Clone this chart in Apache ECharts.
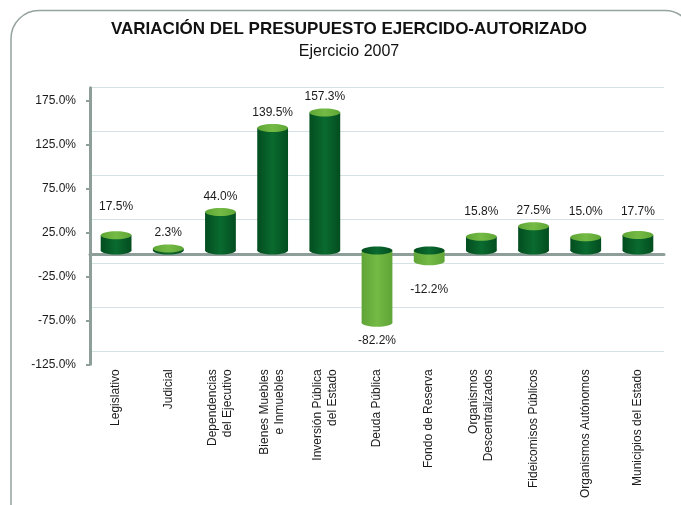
<!DOCTYPE html>
<html>
<head>
<meta charset="utf-8">
<script src="https://cdn.jsdelivr.net/npm/echarts@6/dist/echarts.min.js"></script>
<style>
    html, body { margin: 0; padding: 0; background: #ffffff; }
    #main { width: 681px; height: 505px; }
</style>
</head>
<body>
<div id="main"></div>
<script>
var categories = [
    'Legislativo',
    'Judicial',
    'Dependencias\ndel Ejecutivo',
    'Bienes Muebles\ne Inmuebles',
    'Inversión Pública\ndel Estado',
    'Deuda Pública',
    'Fondo de Reserva',
    'Organismos\nDescentralizados',
    'Fideicomisos Públicos',
    'Organismos Autónomos',
    'Municipios del Estado'
]
var variacion = [17.5, 2.3, 44.0, 139.5, 157.3, -82.2, -12.2, 15.8, 27.5, 15.0, 17.7]
var yTicks = [-125, -75, -25, 25, 75, 125, 175]

// vertical nudges of the value labels (px), placed by hand in the original
var labelShift = [-13, 0, 0, 0, 0, 0, 10, -9, 0, -10, -8]

var FONT = '"Liberation Sans", Arial, sans-serif'
var AXIS = '#8e9f99'

var myChart = echarts.init(document.getElementById('main'))

function grad(edge, mid) {
    return new echarts.graphic.LinearGradient(0, 0, 1, 0, [
        { offset: 0, color: edge },
        { offset: 0.5, color: mid },
        { offset: 1, color: edge }
    ])
}

// cylinder: body + bottom ellipse + top cap
function renderCylinder(params, api) {
    var i = params.dataIndex
    var v = api.value(1)
    var top = api.coord([i, v])
    var base = api.coord([i, 0])
    var w = api.size([1, 0])[0] * 0.59
    var rx = w / 2
    var ry = 4
    var lift = 4 // 3d depth shift
    var x = top[0]
    var yv = top[1] - lift
    var y0 = base[1] - lift
    var upper = Math.min(yv, y0)
    var lower = Math.max(yv, y0)
    var positive = v >= 0
    var bodyFill = positive ? grad('#034d1f', '#0a6b2f') : grad('#5fa436', '#74ba45')
    var capFill = positive ? grad('#5ea635', '#74ba45') : grad('#034d1f', '#0a6b2f')
    var labelY = positive ? top[1] - 19.6 : top[1] + 14
    labelY += labelShift[i]

    return {
        type: 'group',
        children: [
            { type: 'ellipse', shape: { cx: x, cy: lower, rx: rx, ry: ry }, style: { fill: bodyFill } },
            { type: 'rect', shape: { x: x - rx, y: upper, width: w, height: lower - upper }, style: { fill: bodyFill } },
            { type: 'ellipse', shape: { cx: x, cy: upper, rx: rx, ry: ry }, style: { fill: capFill } },
            {
                type: 'text',
                style: {
                    text: v.toFixed(1) + '%',
                    x: x,
                    y: labelY,
                    align: 'center',
                    verticalAlign: 'middle',
                    font: '12px ' + FONT,
                    fill: '#1a1a1a'
                }
            }
        ]
    }
}

var option = {
    backgroundColor: '#ffffff',
    animation: false,
    graphic: [
        {
            type: 'rect',
            shape: { x: 11, y: 10.5, width: 682, height: 540, r: 28 },
            style: { fill: 'none', stroke: '#94a39e', lineWidth: 1.5 },
            z: -1
        },
        {
            type: 'text',
            style: {
                text: 'VARIACIÓN DEL PRESUPUESTO EJERCIDO-AUTORIZADO',
                x: 349, y: 29,
                align: 'center', verticalAlign: 'middle',
                font: 'bold 17px ' + FONT,
                fill: '#111111'
            }
        },
        {
            type: 'text',
            style: {
                text: 'Ejercicio 2007',
                x: 349, y: 52,
                align: 'center', verticalAlign: 'middle',
                font: '16px ' + FONT,
                fill: '#111111'
            }
        }
    ],
    grid: {
        left: 90,
        right: 17,
        top: 87.7,
        bottom: 140.75
    },
    xAxis: [
        {
            type: 'category',
            data: categories,
            axisLine: {
                onZero: true,
                onZeroAxisIndex: 0,
                lineStyle: { color: AXIS, width: 3 }
            },
            axisTick: { show: false },
            axisLabel: { show: false }
        },
        {
            type: 'category',
            data: categories,
            position: 'bottom',
            axisLine: { show: false, onZero: false },
            axisTick: { show: false },
            axisLabel: {
                interval: 0,
                rotate: 90,
                margin: 5,
                fontFamily: FONT,
                fontSize: 12,
                lineHeight: 15,
                color: '#1a1a1a'
            }
        }
    ],
    yAxis: [
        {
            type: 'value',
            min: yTicks[0],
            max: 190,
            interval: yTicks[1] - yTicks[0],
            position: 'left',
            axisLine: { show: true, lineStyle: { color: AXIS, width: 3 } },
            axisTick: {
                show: true,
                length: 4,
                customValues: yTicks,
                lineStyle: { color: AXIS, width: 2 }
            },
            axisLabel: {
                customValues: yTicks,
                margin: 14,
                fontFamily: FONT,
                fontSize: 12,
                color: '#1a1a1a',
                formatter: function (v) {
                    return v.toFixed(1) + '%'
                }
            },
            splitLine: { show: false }
        },
        {
            // back wall gridlines, drawn with the 3d depth offset
            type: 'value',
            inverse: true,
            min: -190,
            max: 125,
            interval: 50,
            position: 'left',
            axisLine: { show: false },
            axisTick: { show: false },
            axisLabel: { show: false },
            splitLine: {
                show: true,
                showMaxLine: false,
                lineStyle: { color: '#d4e2e4', width: 1 }
            }
        }
    ],
    series: [
        {
            name: 'Variación',
            type: 'custom',
            xAxisIndex: 0,
            yAxisIndex: 0,
            renderItem: renderCylinder,
            encode: { x: 0, y: 1 },
            data: variacion.map(function (v, i) { return [i, v] }),
            z: 3
        }
    ]
}

option && myChart.setOption(option, true)
</script>
</body>
</html>
